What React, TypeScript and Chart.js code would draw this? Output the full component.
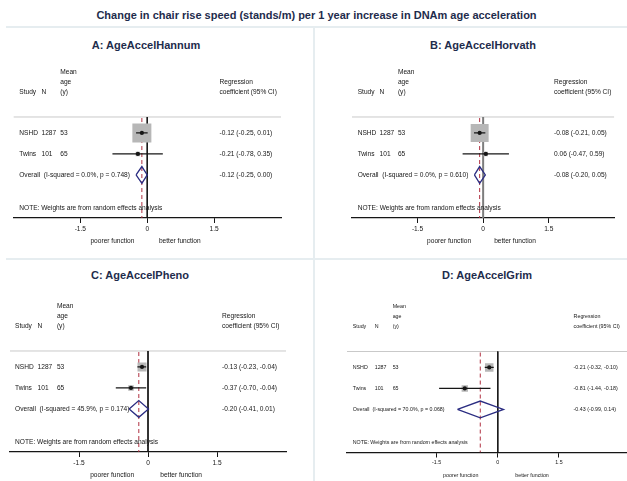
import React, { useEffect, useRef } from "react";
import { Chart, registerables } from "chart.js";

Chart.register(...registerables);

// ---------- data ----------
const mainTitle =
  "Change in chair rise speed (stands/m) per 1 year increase in DNAm age acceleration";

const studyNames = ["NSHD", "Twins"];
const sampleSizes = [1287, 101];
const meanAges = [53, 65];
const axisTicks = [-1.5, 0, 1.5];

// A: AgeAccelHannum
const hannumEstimate = [-0.12, -0.21];
const hannumLower = [-0.25, -0.78];
const hannumUpper = [0.01, 0.35];
const hannumWeight = [95.0, 5.0];
const hannumPooled = [-0.12, -0.25, 0.0]; // estimate, lower, upper
const hannumHeterogeneity = [0.0, 0.748]; // I-squared (%), p

// B: AgeAccelHorvath
const horvathEstimate = [-0.08, 0.06];
const horvathLower = [-0.21, -0.47];
const horvathUpper = [0.05, 0.59];
const horvathWeight = [94.3, 5.7];
const horvathPooled = [-0.08, -0.2, 0.05];
const horvathHeterogeneity = [0.0, 0.61];

// C: AgeAccelPheno
const phenoEstimate = [-0.13, -0.37];
const phenoLower = [-0.23, -0.7];
const phenoUpper = [-0.04, -0.04];
const phenoWeight = [72.5, 27.5];
const phenoPooled = [-0.2, -0.41, 0.01];
const phenoHeterogeneity = [45.9, 0.174];

// D: AgeAccelGrim
const grimEstimate = [-0.21, -0.81];
const grimLower = [-0.32, -1.44];
const grimUpper = [-0.1, -0.18];
const grimWeight = [63.9, 36.1];
const grimPooled = [-0.43, -0.99, 0.14];
const grimHeterogeneity = [70.0, 0.068];

// ---------- styling ----------
const FONT = '"Liberation Sans", Arial, Helvetica, sans-serif';
const NAVY = "#1e2c4c";
const INK = "#161616";
const BOX_GREY = "#b7b7b7";
const DIAMOND = "#2b2d82";
const POOLED_LINE = "#b03040";
const RULE_GREY = "#c9c9c9";
const PANEL_RULE = "#e6edf0";

// vertical layout in row units (row 1 = first study)
const Y_MIN = -2.4;
const Y_MAX = 5.05;
const HEAD_1 = -1.9;
const HEAD_2 = -1.43;
const HEAD_3 = -0.95;
const RULE_ROW = 0.24;
const NOTE_ROW = 4.57;
const DIAMOND_HALF = 0.4;
const AXIS_BAND = 22;
const SIDE_GAP = 23;

type Frame = {
  left: number;
  top: number;
  width: number;
  height: number;
  plotLeft: number;
  plotRight: number;
  axisY: number;
  rowPx: number;
  xMin: number;
  xMax: number;
  font: number;
  boxScale: number;
  cols: number[]; // study, N, age, coefficient (x units)
  sideLabels: number[];
  titleX: number;
  titleY: number;
  zeroColor: string;
  zeroWidth: number;
};

type PanelSpec = {
  title: string;
  estimate: number[];
  lower: number[];
  upper: number[];
  weight: number[];
  pooled: number[];
  het: number[];
  frame: Frame;
};

const panels: PanelSpec[] = [
  {
    title: "A: AgeAccelHannum",
    estimate: hannumEstimate,
    lower: hannumLower,
    upper: hannumUpper,
    weight: hannumWeight,
    pooled: hannumPooled,
    het: hannumHeterogeneity,
    frame: {
      left: 0, top: 28, width: 313, height: 230,
      plotLeft: 8, plotRight: 281, axisY: 218, rowPx: 21,
      xMin: -3, xMax: 3, font: 6.6, boxScale: 19.5,
      cols: [-2.87, -2.37, -1.95, 1.62], sideLabels: [-0.78, 0.73],
      titleX: 146, titleY: 45, zeroColor: INK, zeroWidth: 1,
    },
  },
  {
    title: "B: AgeAccelHorvath",
    estimate: horvathEstimate,
    lower: horvathLower,
    upper: horvathUpper,
    weight: horvathWeight,
    pooled: horvathPooled,
    het: horvathHeterogeneity,
    frame: {
      left: 316, top: 28, width: 311, height: 230,
      plotLeft: 352, plotRight: 625, axisY: 218, rowPx: 21,
      xMin: -3, xMax: 3, font: 6.6, boxScale: 18.5,
      cols: [-2.87, -2.37, -1.95, 1.62], sideLabels: [-0.78, 0.73],
      titleX: 483, titleY: 45, zeroColor: "#7d7d7d", zeroWidth: 2,
    },
  },
  {
    title: "C: AgeAccelPheno",
    estimate: phenoEstimate,
    lower: phenoLower,
    upper: phenoUpper,
    weight: phenoWeight,
    pooled: phenoPooled,
    het: phenoHeterogeneity,
    frame: {
      left: 0, top: 261, width: 313, height: 220,
      plotLeft: 10, plotRight: 286, axisY: 452, rowPx: 21,
      xMin: -3, xMax: 3, font: 6.6, boxScale: 10.6,
      cols: [-2.89, -2.4, -1.98, 1.61], sideLabels: [-0.78, 0.72],
      titleX: 140, titleY: 275, zeroColor: INK, zeroWidth: 1,
    },
  },
  {
    title: "D: AgeAccelGrim",
    estimate: grimEstimate,
    lower: grimLower,
    upper: grimUpper,
    weight: grimWeight,
    pooled: grimPooled,
    het: grimHeterogeneity,
    frame: {
      left: 316, top: 261, width: 340, height: 220,
      plotLeft: 347, plotRight: 648.6, axisY: 452.5, rowPx: 21,
      xMin: -3.7, xMax: 3.7, font: 5.3, boxScale: 10.6,
      cols: [-3.56, -3.02, -2.58, 1.86], sideLabels: [-0.91, 0.84],
      titleX: 487, titleY: 275, zeroColor: INK, zeroWidth: 1,
    },
  },
];

const fmt = (v: number) => v.toFixed(2);
const ciText = (e: number, lo: number, hi: number) => `${fmt(e)} (${fmt(lo)}, ${fmt(hi)})`;

// Column text, headers and footnote drawn at scale positions
function textPlugin(spec: PanelSpec) {
  return {
    id: "forestText",
    afterDraw(chart: any) {
      const { ctx, chartArea } = chart;
      const xs = chart.scales.x;
      const ys = chart.scales.y;
      const f = spec.frame;
      const [cStudy, cN, cAge, cCoef] = f.cols;
      const pooledRow = spec.estimate.length + 1;
      const put = (s: string, xv: number, yv: number) =>
        ctx.fillText(s, xs.getPixelForValue(xv), ys.getPixelForValue(yv));

      ctx.save();
      ctx.fillStyle = INK;
      ctx.textBaseline = "middle";
      ctx.textAlign = "left";
      ctx.font = `${f.font}px ${FONT}`;

      put("Mean", cAge, HEAD_1);
      put("age", cAge, HEAD_2);
      put("(y)", cAge, HEAD_3);
      put("Study", cStudy, HEAD_3);
      put("N", cN, HEAD_3);
      put("Regression", cCoef, HEAD_2);
      put("coefficient (95% CI)", cCoef, HEAD_3);

      studyNames.forEach((name, i) => {
        const r = i + 1;
        put(name, cStudy, r);
        put(String(sampleSizes[i]), cN, r);
        put(String(meanAges[i]), cAge, r);
        put(ciText(spec.estimate[i], spec.lower[i], spec.upper[i]), cCoef, r);
      });

      put(
        `Overall  (I-squared = ${spec.het[0].toFixed(1)}%, p = ${spec.het[1].toFixed(3)})`,
        cStudy,
        pooledRow
      );
      put(ciText(spec.pooled[0], spec.pooled[1], spec.pooled[2]), cCoef, pooledRow);
      put("NOTE: Weights are from random effects analysis", cStudy, NOTE_ROW);

      ctx.textAlign = "center";
      const yLab = chartArea.bottom + SIDE_GAP;
      ctx.fillText("poorer function", xs.getPixelForValue(f.sideLabels[0]), yLab);
      ctx.fillText("better function", xs.getPixelForValue(f.sideLabels[1]), yLab);
      ctx.restore();
    },
  };
}

function buildConfig(spec: PanelSpec): any {
  const f = spec.frame;
  const rows = spec.estimate.map((_, i) => i + 1);
  const pooledRow = spec.estimate.length + 1;
  const [pEst, pLo, pHi] = spec.pooled;

  const chartBottom = f.axisY - f.top;
  const padTop = chartBottom - (Y_MAX - Y_MIN) * f.rowPx;
  const padBottom = f.height - chartBottom - AXIS_BAND;
  const padLeft = f.plotLeft - f.left;
  const padRight = f.left + f.width - f.plotRight;

  const lineSet = (data: any[], color: string, width: number, extra: any = {}) => ({
    data,
    showLine: true,
    borderColor: color,
    borderWidth: width,
    pointRadius: 0,
    fill: false,
    ...extra,
  });

  const ciSets = spec.estimate.map((_, i) =>
    lineSet(
      [
        { x: spec.lower[i], y: rows[i] },
        { x: spec.upper[i], y: rows[i] },
      ],
      INK,
      1.3
    )
  );

  const datasets = [
    // point estimates
    {
      data: spec.estimate.map((e, i) => ({ x: e, y: rows[i] })),
      showLine: false,
      pointStyle: "circle",
      pointRadius: 2.1,
      backgroundColor: INK,
      borderWidth: 0,
    },
    ...ciSets,
    // pooled diamond
    lineSet(
      [
        { x: pLo, y: pooledRow },
        { x: pEst, y: pooledRow - DIAMOND_HALF },
        { x: pHi, y: pooledRow },
        { x: pEst, y: pooledRow + DIAMOND_HALF },
        { x: pLo, y: pooledRow },
      ],
      DIAMOND,
      1.3,
      { borderJoinStyle: "miter" }
    ),
    // weight boxes
    {
      data: spec.estimate.map((e, i) => ({ x: e, y: rows[i] })),
      showLine: false,
      pointStyle: "rect",
      pointRadius: spec.weight.map((w) => (f.boxScale * Math.sqrt(w / 100)) / Math.SQRT2),
      backgroundColor: BOX_GREY,
      borderWidth: 0,
    },
    // pooled estimate reference
    lineSet(
      [
        { x: pEst, y: RULE_ROW + 0.05 },
        { x: pEst, y: Y_MAX },
      ],
      POOLED_LINE,
      1,
      { borderDash: [4, 3] }
    ),
    // null effect
    lineSet(
      [
        { x: 0, y: RULE_ROW },
        { x: 0, y: Y_MAX },
      ],
      f.zeroColor,
      f.zeroWidth
    ),
    // header rule
    lineSet(
      [
        { x: f.xMin, y: RULE_ROW },
        { x: f.xMax, y: RULE_ROW },
      ],
      RULE_GREY,
      1
    ),
  ];

  return {
    type: "scatter",
    data: { datasets },
    options: {
      responsive: false,
      animation: false,
      devicePixelRatio: 1,
      events: [],
      layout: { padding: { left: padLeft, right: padRight, top: padTop, bottom: padBottom } },
      plugins: {
        legend: { display: false },
        title: { display: false },
        tooltip: { enabled: false },
      },
      elements: { line: { tension: 0 } },
      scales: {
        x: {
          type: "linear",
          position: "bottom",
          min: f.xMin,
          max: f.xMax,
          afterBuildTicks: (axis: any) => {
            axis.ticks = axisTicks.map((v) => ({ value: v }));
          },
          afterFit: (axis: any) => {
            axis.height = AXIS_BAND;
            axis.paddingLeft = 0;
            axis.paddingRight = 0;
          },
          ticks: {
            font: { family: FONT, size: f.font },
            color: INK,
            padding: 2,
            maxRotation: 0,
            autoSkip: false,
            callback: (v: number) => String(v),
          },
          grid: {
            drawOnChartArea: false,
            drawTicks: true,
            tickLength: 5,
            color: INK,
            lineWidth: 1,
          },
          border: { display: true, color: INK, width: 1.2 },
        },
        y: {
          type: "linear",
          display: false,
          reverse: true,
          min: Y_MIN,
          max: Y_MAX,
        },
      },
    },
    plugins: [textPlugin(spec)],
  };
}

function ForestPanel({ spec }: { spec: PanelSpec }) {
  const ref = useRef<HTMLCanvasElement | null>(null);
  useEffect(() => {
    if (!ref.current) return;
    const chart = new Chart(ref.current, buildConfig(spec));
    return () => chart.destroy();
  }, [spec]);
  const f = spec.frame;
  return (
    <>
      <div
        style={{
          position: "absolute",
          left: f.titleX - 120,
          width: 240,
          top: f.titleY - 8,
          lineHeight: "16px",
          textAlign: "center",
          fontWeight: 700,
          fontSize: 11,
          color: NAVY,
          whiteSpace: "nowrap",
        }}
      >
        {spec.title}
      </div>
      <canvas
        ref={ref}
        width={f.width}
        height={f.height}
        style={{ position: "absolute", left: f.left, top: f.top, width: f.width, height: f.height }}
      />
    </>
  );
}

export default function App() {
  return (
    <div
      style={{
        position: "fixed",
        left: 0,
        top: 0,
        width: 627,
        height: 481,
        overflow: "hidden",
        background: "#ffffff",
        fontFamily: FONT,
      }}
    >
      <div
        style={{
          position: "absolute",
          left: 6,
          width: 621,
          top: 7,
          lineHeight: "16px",
          textAlign: "center",
          fontWeight: 700,
          fontSize: 11,
          color: NAVY,
          whiteSpace: "nowrap",
        }}
      >
        {mainTitle}
      </div>
      <div style={{ position: "absolute", left: 6, top: 26, width: 621, height: 2, background: PANEL_RULE }} />
      <div style={{ position: "absolute", left: 313, top: 27, width: 2, height: 454, background: PANEL_RULE }} />
      <div style={{ position: "absolute", left: 6, top: 258, width: 621, height: 2, background: PANEL_RULE }} />
      {panels.map((p) => (
        <ForestPanel key={p.title} spec={p} />
      ))}
    </div>
  );
}
